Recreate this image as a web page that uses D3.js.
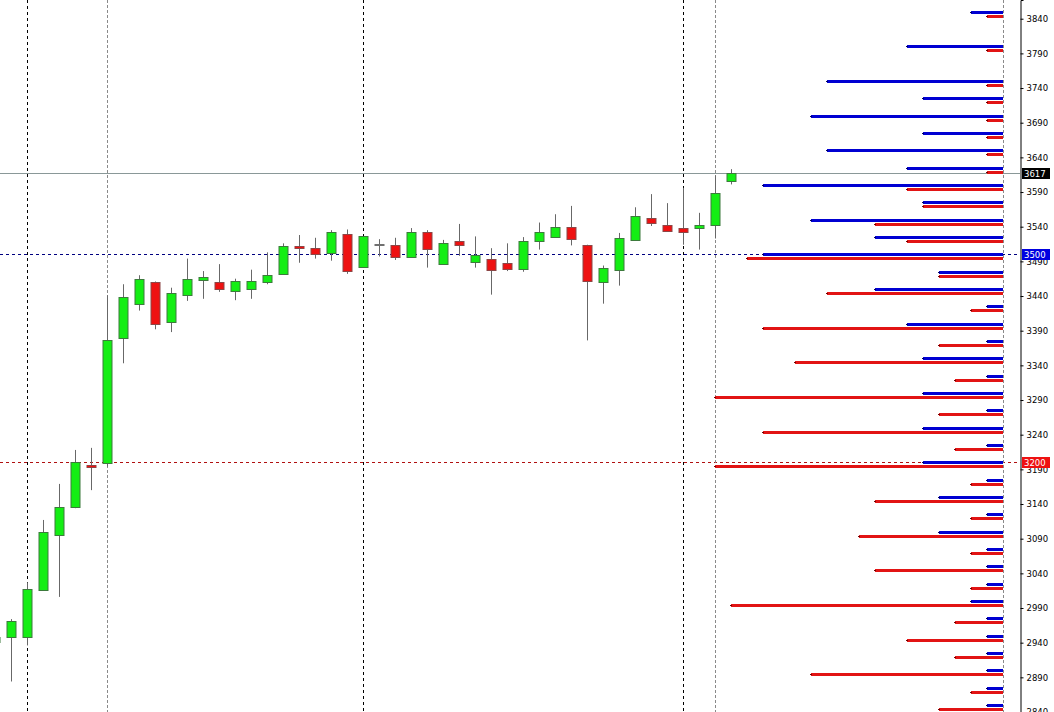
<!DOCTYPE html>
<html>
<head>
<meta charset="utf-8">
<script src="https://cdn.jsdelivr.net/npm/d3@7"></script>
<style>
  html, body { margin: 0; padding: 0; background: #ffffff; overflow: hidden; }
  svg { display: block; }
  text { font-family: "DejaVu Sans", sans-serif; }
</style>
</head>
<body>
<svg id="chart" width="1054" height="712"></svg>
<script>
// ---------- DATA ----------
// candle index (-1 is the partly visible candle at the left edge)
const candleIndex = [-1,0,1,2,3,4,5,6,7,8,9,10,11,12,13,14,15,16,17,18,19,20,21,22,23,24,25,26,27,28,29,30,31,32,33,34,35,36,37,38,39,40,41,42,43,44,45];
const opens  = [2941,2948,2948,3017,3094,3136,3196,3199,3379,3429,3460,3403,3442,3462,3460,3447,3450,3460,3471,3512,3510,3501,3530,3481,3515,3514,3497,3533,3486,3520,3489,3494,3487,3480,3519,3525,3540,3513,3461,3477,3520,3553,3543,3538,3538,3543,3605];
const highs  = [2948,2974,3027,3117,3169,3218,3221,3441,3457,3470,3461,3452,3494,3476,3486,3465,3478,3503,3516,3528,3524,3535,3536,3526,3522,3524,3538,3535,3521,3544,3526,3509,3516,3525,3546,3558,3570,3514,3484,3531,3568,3587,3574,3596,3560,3614,3623];
const lows   = [2941,2884,2936,3017,3006,3134,3160,3194,3343,3419,3392,3388,3433,3436,3446,3434,3436,3457,3471,3488,3494,3491,3472,3481,3497,3492,3497,3481,3486,3498,3481,3442,3476,3475,3507,3525,3513,3376,3429,3455,3520,3541,3533,3514,3507,3523,3601];
const closes = [2948,2971,3017,3100,3135,3201,3193,3377,3438,3465,3400,3445,3465,3467,3450,3461,3462,3470,3512,3509,3501,3532,3476,3526,3515,3497,3533,3509,3517,3514,3499,3478,3478,3520,3532,3540,3523,3461,3481,3523,3555,3546,3535,3532,3542,3589,3617];

// horizontal volume-style bars per strike
const strikes   = [3850,3800,3750,3725,3700,3675,3650,3625,3600,3575,3550,3525,3500,3475,3450,3425,3400,3375,3350,3325,3300,3275,3250,3225,3200,3175,3150,3125,3100,3075,3050,3025,3000,2975,2950,2925,2900,2875,2850];
const blueBars  = [2,6,11,5,12,5,11,6,15,5,12,8,15,4,8,1,6,1,5,1,5,1,5,1,5,1,4,1,4,1,1,1,2,1,1,1,1,1,1];
const redBars   = [1,1,1,1,1,1,1,1,6,5,8,6,16,4,11,2,15,4,13,3,18,4,15,3,18,2,8,2,9,2,8,2,17,3,6,3,12,2,4];

// price axis ticks
const priceTicks = [3840,3790,3740,3690,3640,3590,3540,3490,3440,3390,3340,3290,3240,3190,3140,3090,3040,2990,2940,2890,2840];

// marked levels
const currentPrice = 3617;
const blueLevel = 3500;
const redLevel = 3200;

// vertical separators (candle index)
const blackSeparators = [1, 22, 42];
const graySeparators = [6, 44];

// ---------- CHART ----------
const W = 1054, H = 712;
const plotRight = 1020;
const svg = d3.select("#chart");

const y = d3.scaleLinear().domain([2840, 3867]).range([H, 0]);
const x = d3.scaleLinear().domain([0, 45]).range([11.5, 731.5]);
const xBar = d3.scaleLinear().domain([0, 18]).range([1003, 715]);

const plot = svg.append("g");
plot.append("defs").append("clipPath").attr("id", "clip")
  .append("rect").attr("x", 0).attr("y", 0).attr("width", plotRight).attr("height", H);
const g = plot.append("g").attr("clip-path", "url(#clip)");

// horizontal levels
g.append("line")
  .attr("x1", 0).attr("x2", plotRight)
  .attr("y1", Math.round(y(currentPrice)) + 0.5).attr("y2", Math.round(y(currentPrice)) + 0.5)
  .attr("stroke", "#8a9898").attr("stroke-width", 1);
g.append("line")
  .attr("x1", 0).attr("x2", plotRight)
  .attr("y1", Math.round(y(blueLevel)) + 0.5).attr("y2", Math.round(y(blueLevel)) + 0.5)
  .attr("stroke", "#000080").attr("stroke-width", 1).attr("stroke-dasharray", "3,3");
g.append("line")
  .attr("x1", 0).attr("x2", plotRight)
  .attr("y1", Math.round(y(redLevel)) + 0.5).attr("y2", Math.round(y(redLevel)) + 0.5)
  .attr("stroke", "#b01010").attr("stroke-width", 1).attr("stroke-dasharray", "3,3");

// vertical separators
g.selectAll(".vsep-b").data(blackSeparators).enter().append("line")
  .attr("x1", d => x(d)).attr("x2", d => x(d)).attr("y1", 0).attr("y2", H)
  .attr("stroke", "#000").attr("stroke-width", 1).attr("stroke-dasharray", "3,3");
g.selectAll(".vsep-g").data(graySeparators).enter().append("line")
  .attr("x1", d => x(d)).attr("x2", d => x(d)).attr("y1", 0).attr("y2", H)
  .attr("stroke", "#8a8a8a").attr("stroke-width", 1).attr("stroke-dasharray", "3,2");
g.append("line")
  .attr("x1", xBar(0) + 0.5).attr("x2", xBar(0) + 0.5).attr("y1", 0).attr("y2", H)
  .attr("stroke", "#8a8a8a").attr("stroke-width", 1).attr("stroke-dasharray", "3,2");

// horizontal bars
const barData = strikes.map((s, i) => ({ s, b: blueBars[i], r: redBars[i] }));
const bg = g.append("g");
barData.forEach(d => {
  const yb = Math.round(y(d.s));
  bg.append("rect").attr("x", xBar(d.b)).attr("y", yb - 1)
    .attr("width", xBar(0) - xBar(d.b)).attr("height", 3).attr("fill", "#0000d2");
  bg.append("rect").attr("x", xBar(d.b) - 1).attr("y", yb)
    .attr("width", 2).attr("height", 1).attr("fill", "#000060");
  bg.append("rect").attr("x", xBar(d.r)).attr("y", yb + 3)
    .attr("width", xBar(0) - xBar(d.r)).attr("height", 3).attr("fill", "#e21414");
  bg.append("rect").attr("x", xBar(d.r) - 1).attr("y", yb + 4)
    .attr("width", 2).attr("height", 1).attr("fill", "#700000");
});

// candles
const candles = candleIndex.map((c, i) => ({ c, o: opens[i], h: highs[i], l: lows[i], cl: closes[i] }));
const cg = g.append("g");
cg.selectAll(".wick").data(candles).enter().append("line")
  .attr("x1", d => x(d.c)).attr("x2", d => x(d.c))
  .attr("y1", d => y(d.h)).attr("y2", d => y(d.l))
  .attr("stroke", "#686868").attr("stroke-width", 1);
cg.selectAll(".body").data(candles).enter().append("rect")
  .attr("x", d => x(d.c) - 4.5)
  .attr("width", 9)
  .attr("y", d => Math.round(y(Math.max(d.o, d.cl))) + 0.5)
  .attr("height", d => Math.max(1, Math.round(Math.abs(y(d.o) - y(d.cl)))))
  .attr("fill", d => d.cl > d.o ? "#14ee14" : (d.cl < d.o ? "#ee1111" : "#808080"))
  .attr("stroke", d => d.cl > d.o ? "#3c7a3c" : (d.cl < d.o ? "#8c4646" : "#707070"))
  .attr("stroke-width", 1);

// right axis
const axis = d3.axisRight(y).tickValues(priceTicks).tickSize(3).tickPadding(3).tickFormat(d3.format("d"));
const ax = svg.append("g").attr("transform", `translate(${plotRight + 0.5},0)`).call(axis);
ax.select(".domain").attr("stroke", "#000");
ax.selectAll(".tick line").attr("stroke", "#000");
ax.selectAll("text").attr("font-size", "8.5px").attr("fill", "#000");

// level labels
function levelLabel(v, fill) {
  const yy = Math.round(y(v));
  svg.append("rect").attr("x", plotRight + 2).attr("y", yy - 5).attr("width", 28).attr("height", 11).attr("fill", fill);
  svg.append("text").attr("x", plotRight + 4).attr("y", yy + 4)
    .attr("font-size", "8.5px").attr("fill", "#fff").text(d3.format("d")(v));
}
levelLabel(blueLevel, "#0000e0");
levelLabel(redLevel, "#ee1111");
levelLabel(currentPrice, "#000000");
</script>
</body>
</html>
